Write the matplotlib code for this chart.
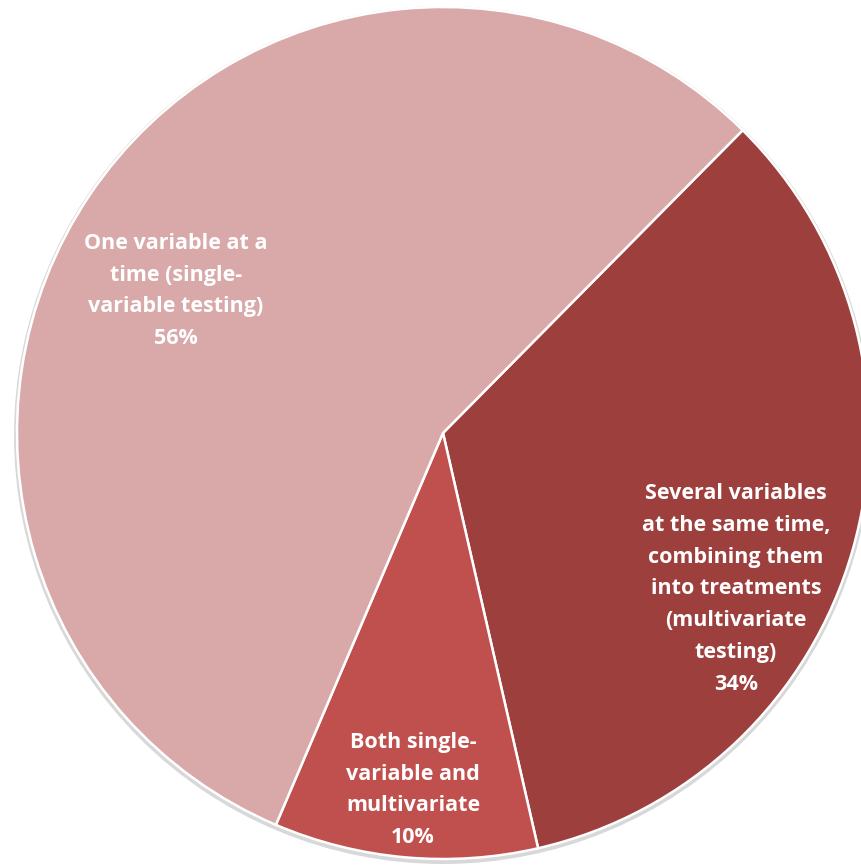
import matplotlib
matplotlib.use("Agg")
import matplotlib.pyplot as plt
from matplotlib.patches import Circle

categories = [
    "Several variables\nat the same time,\ncombining them\ninto treatments\n(multivariate\ntesting)",
    "Both single-\nvariable and\nmultivariate",
    "One variable at a\ntime (single-\nvariable testing)",
]
values = [34, 10, 56]
colors = ["#9D3F3D", "#C0504E", "#D9A9AA"]

W, H = 861, 865
fig = plt.figure(figsize=(W / 100, H / 100), dpi=100)
ax = fig.add_axes([0, 0, 1, 1])

cx, cy, r = 443, H - 433, 426
# subtle shadow ring
ax.add_patch(Circle((cx, cy - 2), r + 3, facecolor="#D8D8D8", edgecolor="none", zorder=0))
wedges, _ = ax.pie(values, colors=colors, startangle=45.3, counterclock=False,
                   center=(cx, cy), radius=r,
                   wedgeprops=dict(edgecolor="white", linewidth=1.8))
for w in wedges:
    w.set_zorder(1)

ax.set_xlim(0, W)
ax.set_ylim(0, H)
ax.set_aspect("equal")
ax.axis("off")

label_pos = [(736, H - 589), (413, H - 790), (176, H - 291)]
for cat, v, (x, y) in zip(categories, values, label_pos):
    ax.text(x, y, f"{cat}\n{v}%", ha="center", va="center", color="white",
            fontsize=15.5, fontweight="bold", family="Open Sans",
            linespacing=1.68, zorder=3)

fig.savefig("out.png", dpi=100)
